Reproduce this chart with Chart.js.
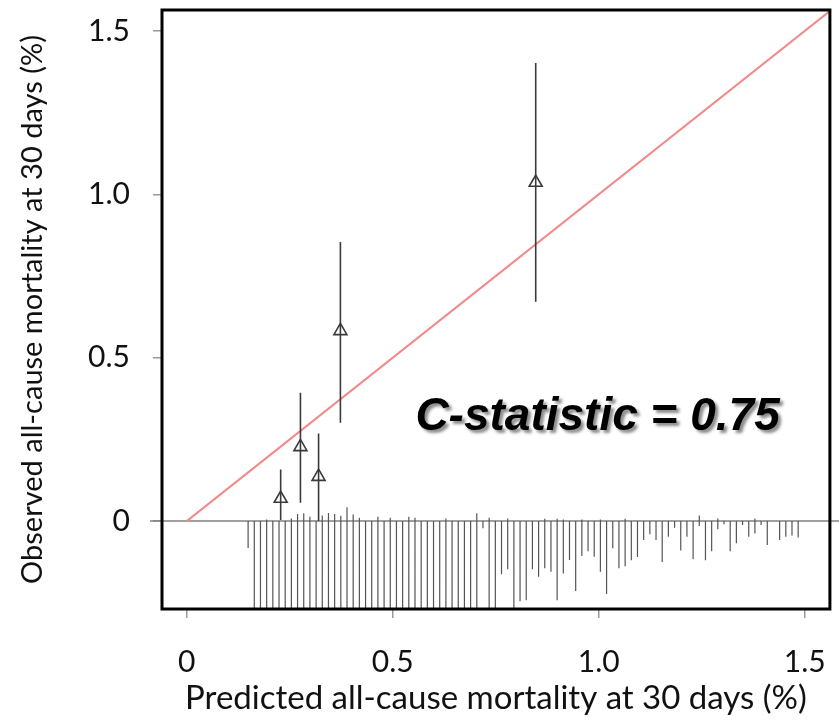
<!DOCTYPE html>
<html><head><meta charset="utf-8">
<script src="https://cdn.jsdelivr.net/npm/chart.js@4.4.0/dist/chart.umd.min.js"></script>
<style>html,body{margin:0;padding:0;background:#fff;}</style>
</head><body>
<canvas id="c" width="839" height="720" style="width:839px;height:720px;display:block"></canvas>
<script>
// ---- axis ticks ----
const xTicks = [0, 0.5, 1.0, 1.5];
const xTickLabels = ['0', '0.5', '1.0', '1.5'];
const yTicks = [0, 0.5, 1.0, 1.5];
const yTickLabels = ['0', '0.5', '1.0', '1.5'];

// ---- grouped observed vs predicted (triangles with 95% CI) ----
const groupPredicted = [0.228, 0.276, 0.320, 0.373, 0.847];
const groupObserved  = [0.069, 0.227, 0.136, 0.582, 1.036];
const groupCILow     = [0.003, 0.056, 0.000, 0.301, 0.671];
const groupCIHigh    = [0.158, 0.393, 0.268, 0.854, 1.402];

// ---- ideal reference line ----
const refLineX = [0, 1.7];
const refLineY = [0, 1.7];

// ---- spike histogram of predicted risk ----
const spikeX = [0.149,0.164,0.179,0.194,0.209,0.224,0.239,0.254,0.269,0.284,
  0.299,0.314,0.329,0.344,0.359,0.374,0.389,0.404,0.419,0.434,
  0.449,0.464,0.479,0.494,0.509,0.524,0.539,0.554,0.569,0.584,
  0.599,0.614,0.629,0.644,0.659,0.674,0.689,0.704,0.719,0.734,
  0.749,0.764,0.779,0.794,0.809,0.824,0.839,0.854,0.869,0.884,
  0.899,0.914,0.929,0.944,0.959,0.974,0.989,1.004,1.019,1.034,
  1.049,1.064,1.079,1.094,1.109,1.124,1.139,1.154,1.169,1.184,
  1.199,1.214,1.229,1.244,1.259,1.274,1.289,1.304,1.319,1.334,
  1.349,1.364,1.379,1.394,1.409,1.424,1.439,1.454,1.469,1.484];
// non-events (drawn below zero; -0.3 runs off the panel)
const spikeNonEvent = [-0.082,-0.3,-0.3,-0.3,-0.3,-0.3,-0.3,-0.3,-0.3,-0.3,
  -0.3,-0.3,-0.3,-0.3,-0.3,-0.3,-0.3,-0.3,-0.3,-0.3,
  -0.3,-0.3,-0.3,-0.3,-0.3,-0.3,-0.3,-0.3,-0.3,-0.3,
  -0.3,-0.3,-0.3,-0.3,-0.3,-0.3,-0.3,-0.3,-0.022,-0.3,
  -0.3,-0.163,-0.147,-0.3,-0.245,-0.242,-0.147,-0.170,-0.144,-0.155,
  -0.242,-0.160,-0.119,-0.214,-0.107,-0.092,-0.109,-0.155,-0.223,-0.083,
  -0.144,-0.138,-0.120,-0.110,-0.058,-0.040,-0.058,-0.125,-0.048,-0.020,
  -0.090,-0.048,-0.117,-0.015,-0.120,-0.092,-0.025,-0.010,-0.092,-0.068,
  -0.012,-0.048,-0.038,-0.012,-0.073,0,-0.058,-0.048,-0.044,-0.050];
// events (drawn above zero)
const spikeEvent = [0,0,0,0.005,0,0,0,0.008,0.022,0.024,
  0.013,0,0.017,0.025,0.022,0.016,0.042,0.020,0.010,0,
  0,0.013,0,0.010,0,0,0.013,0.010,0,0,
  0,0,0.008,0,0,0,0,0.024,0,0.010,
  0,0,0.008,0,0,0,0,0,0.007,0,
  0.007,0.005,0,0,0.005,0,0,0.005,0,0,
  0,0.007,0,0,0,0,0,0,0,0,
  0,0,0,0.017,0,0,0.008,0,0,0,
  0,0,0.008,0,0,0,0,0,0,0];

const annotationText = 'C-statistic = 0.75';
const xTitle = 'Predicted all-cause mortality at 30 days (%)';
const yTitle = 'Observed all-cause mortality at 30 days (%)';

// ---- build segment data ----
function segments(xs, lows, highs) {
  const out = [];
  xs.forEach((x, i) => {
    if (lows[i] === highs[i]) return;
    out.push({x: x, y: lows[i]}, {x: x, y: highs[i]}, {x: x, y: null});
  });
  return out;
}
const zeros = spikeX.map(() => 0);
const nonEventData = segments(spikeX, zeros, spikeNonEvent);
const eventData = segments(spikeX, zeros, spikeEvent);
const ciData = segments(groupPredicted, groupCILow, groupCIHigh);
const pointData = groupPredicted.map((x, i) => ({x: x, y: groupObserved[i]}));
const refData = refLineX.map((x, i) => ({x: x, y: refLineY[i]}));
const zeroLineData = [{x: -0.1, y: 0}, {x: 1.7, y: 0}];

const FONT = 'Lato, "Open Sans", sans-serif';

const boxPlugin = {
  id: 'box',
  afterDatasetsDraw(chart) {
    const {ctx, chartArea: a} = chart;
    ctx.save();
    ctx.strokeStyle = '#000';
    ctx.lineWidth = 3;
    ctx.strokeRect(a.left, a.top, a.right - a.left, a.bottom - a.top);
    ctx.restore();
  }
};
const textPlugin = {
  id: 'ctext',
  afterDatasetsDraw(chart) {
    const {ctx} = chart;
    const xs = chart.scales.x, ys = chart.scales.y;
    const px = xs.getPixelForValue(0.555);
    const py = ys.getPixelForValue(0.28);
    ctx.save();
    ctx.font = 'italic bold 46px "Liberation Sans", Arial, sans-serif';
    ctx.textAlign = 'left';
    ctx.textBaseline = 'alphabetic';
    ctx.shadowColor = 'rgba(0,0,0,0.45)';
    ctx.shadowOffsetX = 3;
    ctx.shadowOffsetY = 3;
    ctx.shadowBlur = 3;
    ctx.fillStyle = '#000';
    ctx.fillText(annotationText, px, py);
    ctx.restore();
  }
};

new Chart(document.getElementById('c'), {
  type: 'scatter',
  data: {
    datasets: [
      {label: 'groups', data: pointData, pointStyle: 'triangle', pointRadius: 7.5,
       pointBorderWidth: 1.6, borderColor: '#3a3a3a', backgroundColor: 'rgba(0,0,0,0)', order: 0},
      {label: 'ci', data: ciData, showLine: true, spanGaps: false, pointRadius: 0,
       borderColor: '#3a3a3a', borderWidth: 1.6, order: 1},
      {label: 'ideal', data: refData, showLine: true, pointRadius: 0,
       borderColor: '#f28a8a', borderWidth: 2, order: 2},
      {label: 'events', data: eventData, showLine: true, spanGaps: false, pointRadius: 0,
       borderColor: '#555', borderWidth: 1.2, order: 3},
      {label: 'nonevents', data: nonEventData, showLine: true, spanGaps: false, pointRadius: 0,
       borderColor: '#555', borderWidth: 1.2, order: 4},
      {label: 'zero', data: zeroLineData, showLine: true, pointRadius: 0,
       borderColor: '#808080', borderWidth: 1.5, order: 5,
       clip: {left: 12, right: 10, top: 0, bottom: 0}}
    ]
  },
  options: {
    responsive: false,
    animation: false,
    devicePixelRatio: 1,
    layout: {padding: {top: 10, right: 7, left: 0, bottom: 0}},
    plugins: {legend: {display: false}, tooltip: {enabled: false}},
    scales: {
      x: {
        type: 'linear', min: -0.06, max: 1.561, offset: false,
        afterBuildTicks: s => { s.ticks = xTicks.map(v => ({value: v})); },
        afterFit: s => { s.height = 111; s.paddingLeft = 0; s.paddingRight = 0; },
        grid: {drawOnChartArea: false, drawTicks: true, tickLength: 9, color: '#999', lineWidth: 1.5},
        border: {display: false},
        ticks: {padding: 26, color: '#111', font: {family: FONT, size: 30},
          callback: (v) => xTickLabels[xTicks.indexOf(v)]},
        title: {display: true, text: xTitle, color: '#111',
          font: {family: FONT, size: 33}, padding: {top: 0, bottom: 2}}
      },
      y: {
        type: 'linear', min: -0.269, max: 1.564,
        afterBuildTicks: s => { s.ticks = yTicks.map(v => ({value: v})); },
        afterFit: s => { s.width = 162; s.paddingTop = 0; s.paddingBottom = 0; },
        grid: {drawOnChartArea: false, drawTicks: true, tickLength: 9, color: '#999', lineWidth: 1.5},
        border: {display: false},
        ticks: {padding: 23, color: '#111', font: {family: FONT, size: 30},
          callback: (v) => yTickLabels[yTicks.indexOf(v)]},
        title: {display: true, text: yTitle, color: '#111',
          font: {family: FONT, size: 29}, padding: {top: 15, bottom: 0}}
      }
    }
  },
  plugins: [boxPlugin, textPlugin]
});
</script>
</body></html>
